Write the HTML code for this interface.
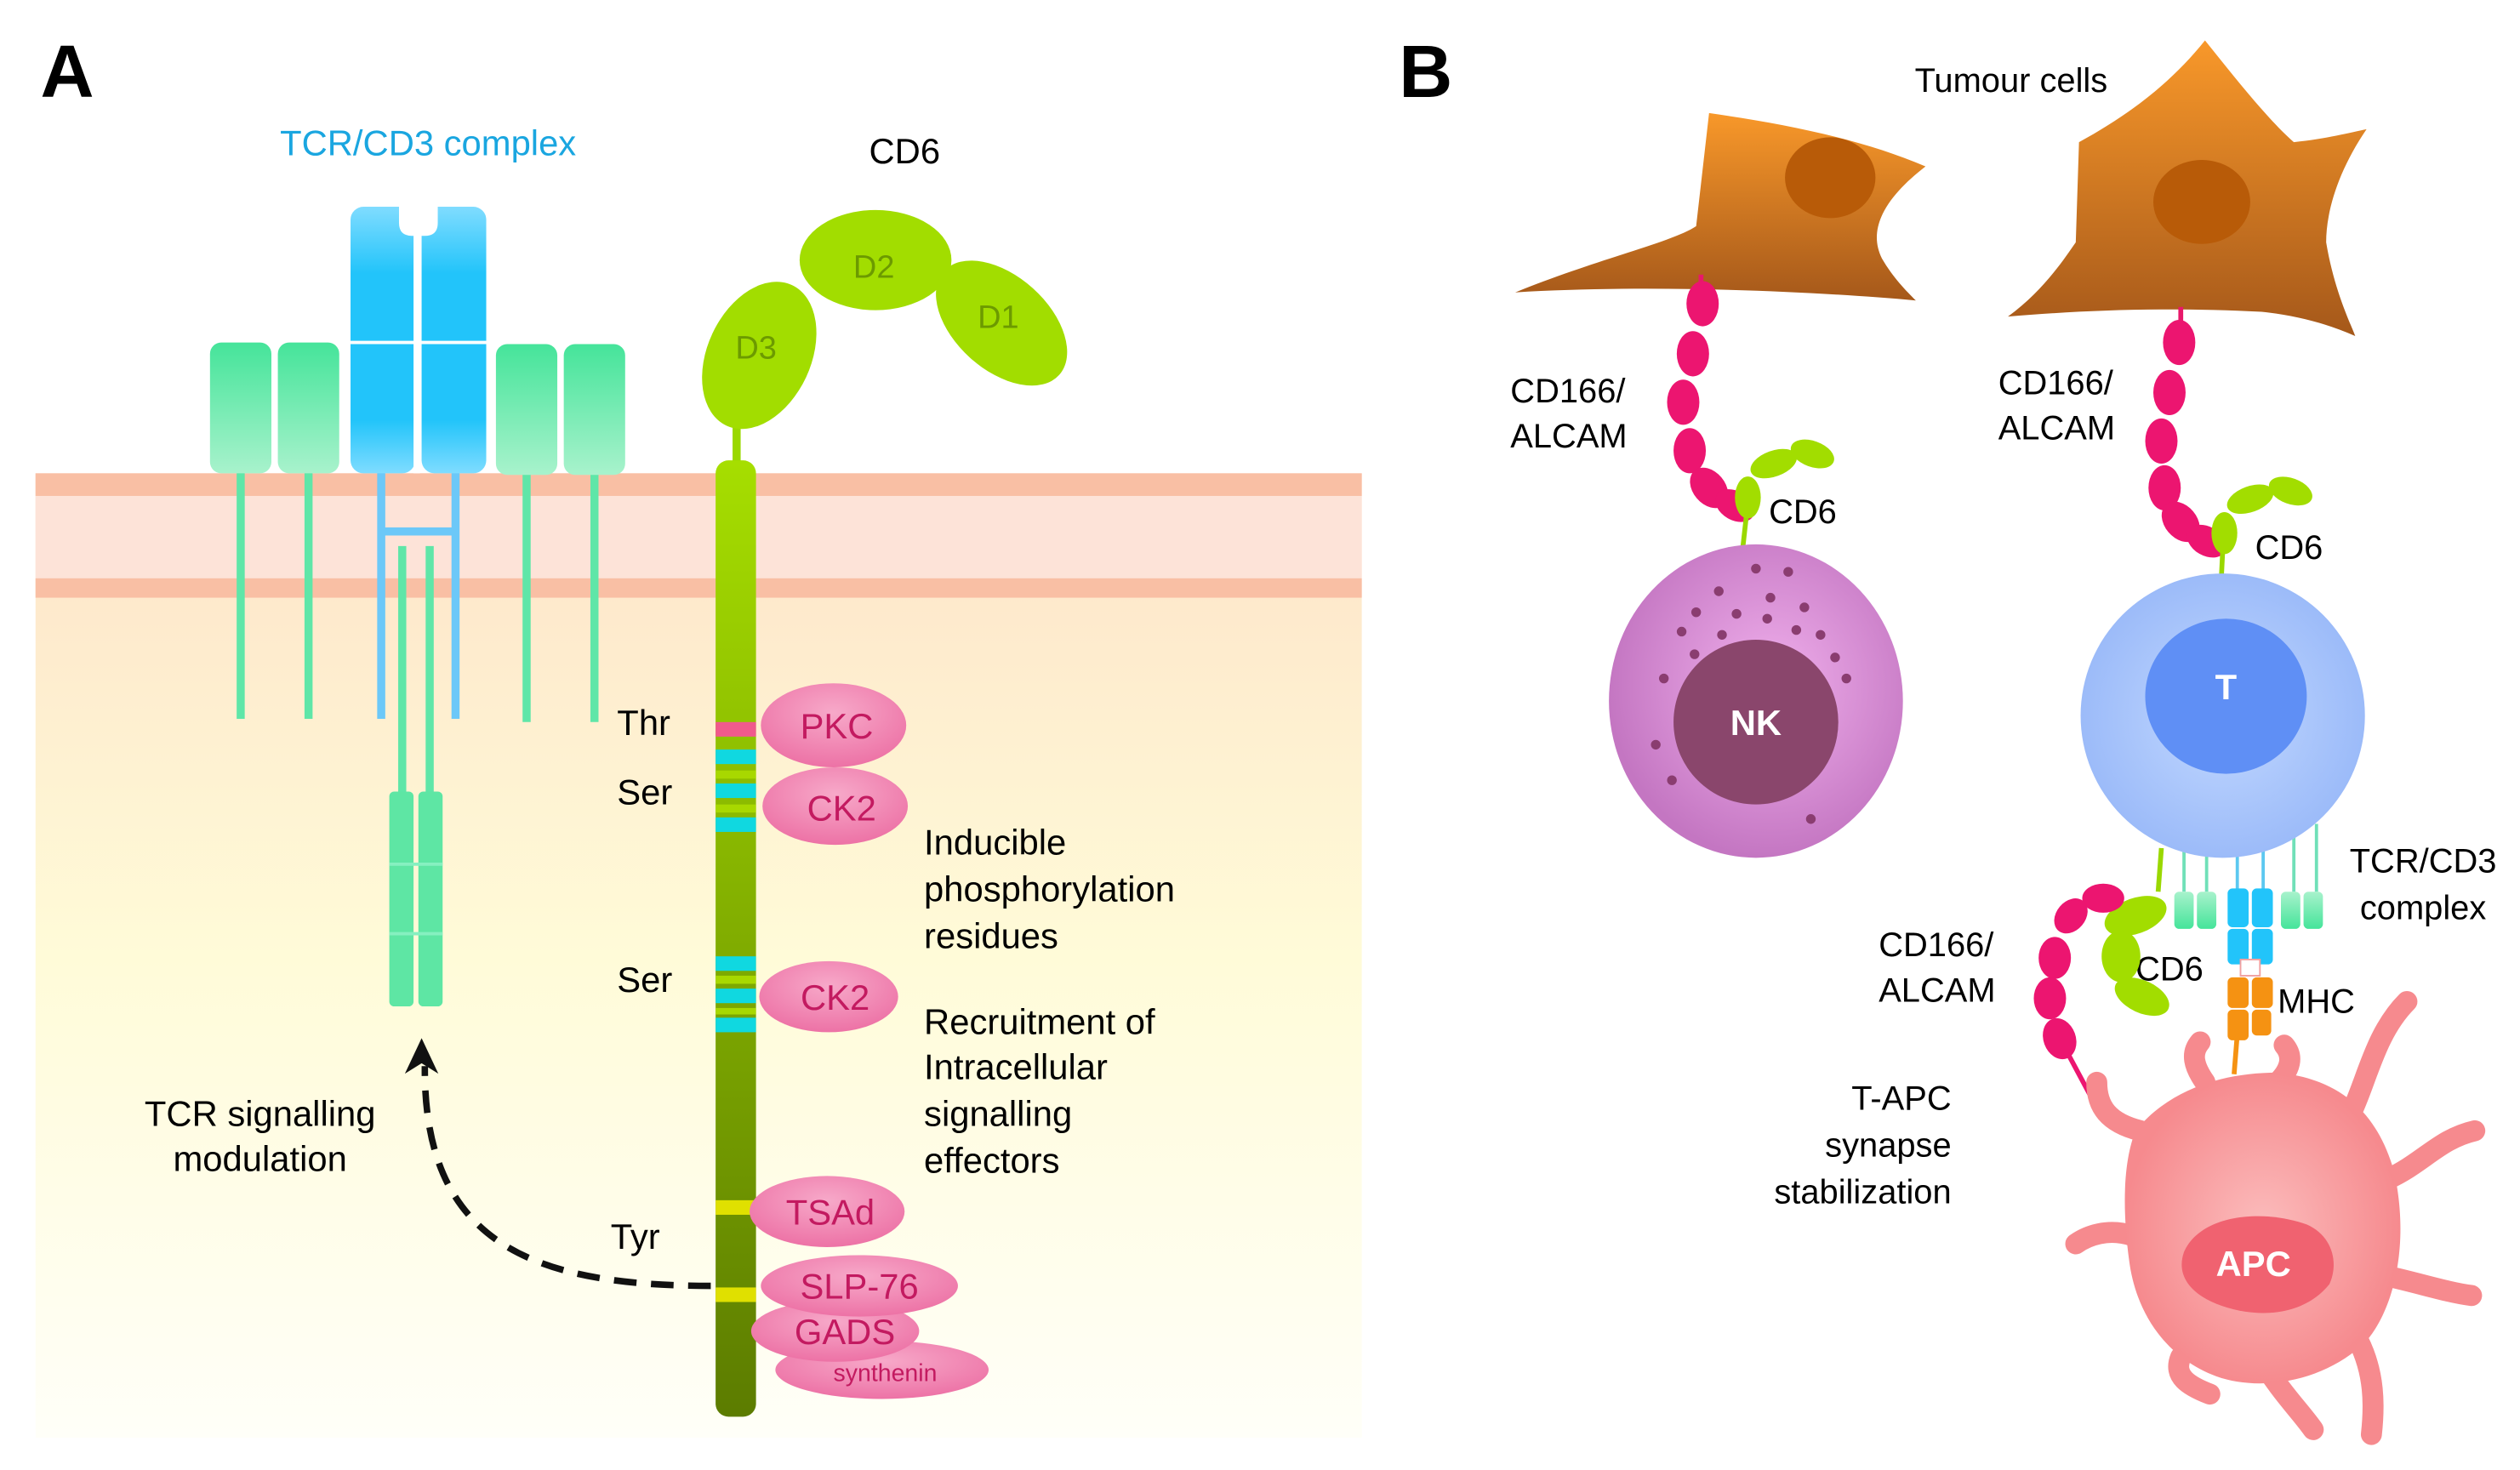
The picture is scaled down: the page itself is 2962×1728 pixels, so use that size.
<!DOCTYPE html>
<html><head><meta charset="utf-8"><style>
html,body{margin:0;padding:0;background:#fff;}
svg{display:block;}
text{font-family:"Liberation Sans",sans-serif;}
</style></head><body>
<svg width="2962" height="1728" viewBox="0 0 1560 910" preserveAspectRatio="none" xmlns="http://www.w3.org/2000/svg">
<defs>
<linearGradient id="cyto" x1="0" y1="0" x2="0" y2="1">
<stop offset="0" stop-color="#fde3c8"/><stop offset="0.5" stop-color="#fffbd8"/><stop offset="1" stop-color="#fffff8"/></linearGradient>
<linearGradient id="cd6" x1="0" y1="0" x2="0" y2="1">
<stop offset="0" stop-color="#a6de00"/><stop offset="1" stop-color="#5c7c00"/></linearGradient>
<linearGradient id="gbox" x1="0" y1="0" x2="0" y2="1">
<stop offset="0" stop-color="#45e49a"/><stop offset="1" stop-color="#a8f2cc"/></linearGradient>
<linearGradient id="bbox" x1="0" y1="0" x2="0" y2="1">
<stop offset="0" stop-color="#80dcff"/><stop offset="0.25" stop-color="#22c4fa"/><stop offset="0.8" stop-color="#22c4fa"/><stop offset="1" stop-color="#7fdcff"/></linearGradient>
<radialGradient id="pinkov" cx="0.5" cy="0.35" r="0.7">
<stop offset="0" stop-color="#f7a9c9"/><stop offset="1" stop-color="#ec6ea3"/></radialGradient>
<linearGradient id="tum" x1="0" y1="0" x2="0" y2="1">
<stop offset="0" stop-color="#f8982a"/><stop offset="1" stop-color="#a5581a"/></linearGradient>
<radialGradient id="nk" cx="0.55" cy="0.45" r="0.55">
<stop offset="0" stop-color="#f0b0ec"/><stop offset="1" stop-color="#c476c2"/></radialGradient>
<radialGradient id="tc" cx="0.5" cy="0.5" r="0.55">
<stop offset="0" stop-color="#c2d8ff"/><stop offset="1" stop-color="#98b8f8"/></radialGradient>
<radialGradient id="apc" cx="0.5" cy="0.5" r="0.5">
<stop offset="0" stop-color="#fbbcbc"/><stop offset="1" stop-color="#f68a8e"/></radialGradient>
</defs>

<rect x="22" y="293" width="821" height="597" fill="url(#cyto)"/>
<rect x="22" y="293" width="821" height="77" fill="#fde3d8"/>
<rect x="22" y="293" width="821" height="14" fill="#f9bfa4"/>
<rect x="22" y="358" width="821" height="12" fill="#f9bfa4"/>

<text x="25" y="60" font-size="46" font-weight="bold">A</text>
<text x="265" y="96" font-size="22" fill="#1aa6e0" text-anchor="middle">TCR/CD3 complex</text>
<text x="560" y="101" font-size="22" text-anchor="middle">CD6</text>

<g stroke="#5fe6a8" stroke-width="5">
<line x1="149" y1="290" x2="149" y2="445"/><line x1="191" y1="290" x2="191" y2="445"/>
<line x1="326" y1="290" x2="326" y2="447"/><line x1="368" y1="290" x2="368" y2="447"/>
<line x1="249" y1="338" x2="249" y2="492"/><line x1="266" y1="338" x2="266" y2="492"/>
</g>
<g stroke="#6cc8f8" stroke-width="5" fill="none">
<line x1="236" y1="290" x2="236" y2="445"/><line x1="282" y1="290" x2="282" y2="445"/>
<line x1="236" y1="329" x2="282" y2="329"/>
</g>
<rect x="130" y="212" width="38" height="81" rx="7" fill="url(#gbox)"/>
<rect x="172" y="212" width="38" height="81" rx="7" fill="url(#gbox)"/>
<rect x="307" y="213" width="38" height="81" rx="7" fill="url(#gbox)"/>
<rect x="349" y="213" width="38" height="81" rx="7" fill="url(#gbox)"/>
<rect x="217" y="128" width="40" height="165" rx="8" fill="url(#bbox)"/>
<rect x="261" y="128" width="40" height="165" rx="8" fill="url(#bbox)"/>
<path d="M247,126 L247,138 Q247,146 255,146 L263,146 Q271,146 271,138 L271,126 Z" fill="#fff"/>
<line x1="258" y1="140" x2="258" y2="293" stroke="#fff" stroke-width="4"/>
<line x1="217" y1="212" x2="301" y2="212" stroke="#fff" stroke-width="2"/>
<g fill="#5ee6a4">
<rect x="241" y="490" width="15" height="133" rx="3"/><rect x="259" y="490" width="15" height="133" rx="3"/>
</g>
<g stroke="#86f0c0" stroke-width="2"><line x1="241" y1="535" x2="274" y2="535"/><line x1="241" y1="578" x2="274" y2="578"/></g>

<line x1="456" y1="255" x2="456" y2="290" stroke="#9ad800" stroke-width="5"/>
<ellipse cx="470" cy="220" rx="32" ry="48" transform="rotate(25 470 220)" fill="#a2dd00"/>
<ellipse cx="542" cy="161" rx="47" ry="31" fill="#a2dd00"/>
<ellipse cx="620" cy="200" rx="48" ry="29" transform="rotate(42 620 200)" fill="#a2dd00"/>
<g font-size="20" fill="#6c9a00" text-anchor="middle">
<text x="468" y="222">D3</text><text x="541" y="172">D2</text><text x="618" y="203">D1</text></g>
<rect x="443" y="285" width="25" height="592" rx="8" fill="url(#cd6)"/>
<rect x="443" y="447" width="25" height="9" fill="#f05a8c"/>
<g fill="#10d8e0">
<rect x="443" y="464" width="25" height="9"/><rect x="443" y="485" width="25" height="9"/><rect x="443" y="506" width="25" height="9"/>
<rect x="443" y="592" width="25" height="9"/><rect x="443" y="612" width="25" height="9"/><rect x="443" y="630" width="25" height="9"/>
</g>
<g fill="#a8d800"><rect x="443" y="477" width="25" height="5"/><rect x="443" y="498" width="25" height="5"/><rect x="443" y="604" width="25" height="5"/><rect x="443" y="624" width="25" height="4"/></g>
<g fill="#e0e000"><rect x="443" y="743" width="25" height="9"/><rect x="443" y="797" width="25" height="9"/></g>

<g fill="url(#pinkov)">
<ellipse cx="516" cy="449" rx="45" ry="26"/>
<ellipse cx="517" cy="499" rx="45" ry="24"/>
<ellipse cx="513" cy="617" rx="43" ry="22"/>
<ellipse cx="512" cy="750" rx="48" ry="22"/>
<ellipse cx="546" cy="848" rx="66" ry="18"/>
<ellipse cx="517" cy="824" rx="52" ry="19"/>
<ellipse cx="532" cy="796" rx="61" ry="19"/>
</g>
<g fill="#c31a60" text-anchor="middle" font-size="22">
<text x="518" y="457">PKC</text><text x="521" y="508">CK2</text><text x="517" y="625">CK2</text>
<text x="514" y="758">TSAd</text><text x="532" y="804">SLP-76</text><text x="523" y="832">GADS</text>
<text x="548" y="855" font-size="15">synthenin</text></g>

<g font-size="22">
<text x="382" y="455">Thr</text><text x="382" y="498">Ser</text><text x="382" y="614">Ser</text><text x="378" y="773">Tyr</text>
<text x="572" y="529">Inducible</text><text x="572" y="558">phosphorylation</text><text x="572" y="587">residues</text>
<text x="572" y="640">Recruitment of</text><text x="572" y="668">Intracellular</text><text x="572" y="697">signalling</text><text x="572" y="726">effectors</text>
<text x="161" y="697" text-anchor="middle">TCR signalling</text><text x="161" y="725" text-anchor="middle">modulation</text>
</g>
<path d="M440,796 C330,796 262,770 263,660" fill="none" stroke="#111" stroke-width="4" stroke-dasharray="14,9"/>
<path d="M253,662 L261,645 L269,662 L261,657 Z" fill="#111" stroke="#111" stroke-width="2"/>

<text x="866" y="60" font-size="46" font-weight="bold">B</text>
<text x="1245" y="57" font-size="21" text-anchor="middle">Tumour cells</text>

<path d="M938,181 C990,160 1035,150 1050,140 L1058,70 C1100,76 1150,85 1192,103 C1170,120 1155,140 1165,160 C1172,172 1180,180 1186,186 C1120,180 1020,176 938,181 Z" fill="url(#tum)"/>
<ellipse cx="1133" cy="110" rx="28" ry="25" fill="#b85b08"/>
<path d="M1243,196 C1265,180 1278,160 1285,150 L1287,88 C1320,70 1345,50 1365,25 C1385,50 1405,75 1420,88 C1440,86 1455,82 1465,80 C1448,105 1440,130 1440,150 C1445,180 1455,200 1458,208 C1440,200 1420,195 1400,193 C1340,190 1290,192 1243,196 Z" fill="url(#tum)"/>
<ellipse cx="1363" cy="125" rx="30" ry="26" fill="#b85b08"/>

<line x1="1053" y1="170" x2="1053" y2="185" stroke="#e8186a" stroke-width="3"/>
<g fill="#ec1570">
<ellipse cx="1054" cy="188" rx="10" ry="14"/><ellipse cx="1048" cy="219" rx="10" ry="14"/><ellipse cx="1042" cy="249" rx="10" ry="14"/>
<ellipse cx="1046" cy="279" rx="10" ry="14"/><ellipse cx="1058" cy="302" rx="10" ry="14" transform="rotate(-40 1058 302)"/><ellipse cx="1074" cy="313" rx="9" ry="13" transform="rotate(-60 1074 313)"/>
</g>
<line x1="1081" y1="320" x2="1079" y2="338" stroke="#9ad800" stroke-width="3"/>
<g fill="#a2dd00">
<ellipse cx="1082" cy="308" rx="8" ry="13"/><ellipse cx="1098" cy="287" rx="15" ry="8" transform="rotate(-20 1098 287)"/><ellipse cx="1122" cy="281" rx="14" ry="8" transform="rotate(20 1122 281)"/></g>
<g font-size="21">
<text x="935" y="249">CD166/</text><text x="935" y="277">ALCAM</text><text x="1095" y="324">CD6</text></g>

<ellipse cx="1087" cy="434" rx="91" ry="97" fill="url(#nk)"/>
<circle cx="1087" cy="447" r="51" fill="#8a466c"/>
<text x="1087" y="455" font-size="22" font-weight="bold" fill="#fff" text-anchor="middle">NK</text>
<g fill="#8a3d70">
<circle cx="1064" cy="366" r="3"/><circle cx="1087" cy="352" r="3"/><circle cx="1107" cy="354" r="3"/><circle cx="1050" cy="379" r="3"/>
<circle cx="1075" cy="380" r="3"/><circle cx="1096" cy="370" r="3"/><circle cx="1117" cy="376" r="3"/><circle cx="1041" cy="391" r="3"/>
<circle cx="1066" cy="393" r="3"/><circle cx="1094" cy="383" r="3"/><circle cx="1127" cy="393" r="3"/><circle cx="1136" cy="407" r="3"/>
<circle cx="1049" cy="405" r="3"/><circle cx="1030" cy="420" r="3"/><circle cx="1143" cy="420" r="3"/><circle cx="1112" cy="390" r="3"/>
<circle cx="1025" cy="461" r="3"/><circle cx="1035" cy="483" r="3"/><circle cx="1121" cy="507" r="3"/></g>

<line x1="1350" y1="190" x2="1350" y2="205" stroke="#e8186a" stroke-width="3"/>
<g fill="#ec1570">
<ellipse cx="1349" cy="212" rx="10" ry="14"/><ellipse cx="1343" cy="243" rx="10" ry="14"/><ellipse cx="1338" cy="273" rx="10" ry="14"/>
<ellipse cx="1340" cy="302" rx="10" ry="14"/><ellipse cx="1350" cy="323" rx="10" ry="14" transform="rotate(-40 1350 323)"/><ellipse cx="1366" cy="335" rx="9" ry="13" transform="rotate(-60 1366 335)"/></g>
<line x1="1376" y1="340" x2="1375" y2="360" stroke="#9ad800" stroke-width="3"/>
<g fill="#a2dd00">
<ellipse cx="1377" cy="330" rx="8" ry="13"/><ellipse cx="1393" cy="309" rx="15" ry="8" transform="rotate(-20 1393 309)"/><ellipse cx="1418" cy="304" rx="14" ry="8" transform="rotate(20 1418 304)"/></g>
<g font-size="21">
<text x="1237" y="244">CD166/</text><text x="1237" y="272">ALCAM</text><text x="1396" y="346">CD6</text></g>

<g stroke="#70e0b8" stroke-width="2">
<line x1="1352" y1="520" x2="1352" y2="552"/><line x1="1366" y1="520" x2="1366" y2="552"/><line x1="1420" y1="515" x2="1420" y2="552"/><line x1="1434" y1="510" x2="1434" y2="552"/></g>
<g stroke="#5cc8f0" stroke-width="2"><line x1="1385" y1="520" x2="1385" y2="552"/><line x1="1401" y1="520" x2="1401" y2="552"/></g>
<line x1="1338" y1="525" x2="1336" y2="552" stroke="#9ad800" stroke-width="3"/>
<ellipse cx="1376" cy="443" rx="88" ry="88" fill="url(#tc)"/>
<ellipse cx="1378" cy="431" rx="50" ry="48" fill="#5f8ff5"/>
<text x="1378" y="433" font-size="22" font-weight="bold" fill="#fff" text-anchor="middle">T</text>
<g fill="url(#gbox)" transform="scale(1,-1) translate(0,-1127)">
<rect x="1346" y="552" width="12" height="23" rx="3"/><rect x="1360" y="552" width="12" height="23" rx="3"/>
<rect x="1412" y="552" width="12" height="23" rx="3"/><rect x="1426" y="552" width="12" height="23" rx="3"/></g>
<g fill="#22c4fa">
<rect x="1379" y="550" width="13" height="24" rx="3"/><rect x="1394" y="550" width="13" height="24" rx="3"/>
<rect x="1379" y="575" width="13" height="22" rx="3"/><rect x="1394" y="575" width="13" height="22" rx="3"/></g>
<rect x="1387" y="594" width="12" height="10" fill="#fff" stroke="#f0a0a0" stroke-width="1"/>
<g fill="#f59212">
<rect x="1379" y="605" width="13" height="19" rx="3"/><rect x="1394" y="605" width="13" height="19" rx="3"/>
<rect x="1379" y="625" width="13" height="19" rx="3"/><rect x="1394" y="625" width="12" height="16" rx="3"/></g>
<line x1="1385" y1="640" x2="1383" y2="665" stroke="#f59212" stroke-width="3"/>
<g font-size="21">
<text x="1500" y="540" text-anchor="middle">TCR/CD3</text><text x="1500" y="569" text-anchor="middle">complex</text>
<text x="1410" y="627">MHC</text><text x="1322" y="607">CD6</text>
<text x="1163" y="592">CD166/</text><text x="1163" y="620">ALCAM</text>
<text x="1208" y="687" text-anchor="end">T-APC</text><text x="1208" y="716" text-anchor="end">synapse</text><text x="1208" y="745" text-anchor="end">stabilization</text></g>

<g fill="#a2dd00">
<ellipse cx="1322" cy="567" rx="20" ry="11" transform="rotate(-20 1322 567)"/>
<ellipse cx="1313" cy="592" rx="12" ry="16"/>
<ellipse cx="1326" cy="617" rx="18" ry="10" transform="rotate(25 1326 617)"/></g>
<g fill="#ec1570">
<ellipse cx="1302" cy="556" rx="13" ry="9"/><ellipse cx="1282" cy="567" rx="9" ry="12" transform="rotate(40 1282 567)"/>
<ellipse cx="1272" cy="593" rx="10" ry="13"/><ellipse cx="1269" cy="618" rx="10" ry="13"/><ellipse cx="1275" cy="643" rx="10" ry="13" transform="rotate(-20 1275 643)"/></g>
<line x1="1280" y1="652" x2="1295" y2="680" stroke="#ec1570" stroke-width="3"/>

<g stroke="#f68a8e" stroke-width="13" stroke-linecap="round" fill="none">
<path d="M1325,700 C1305,695 1298,685 1298,670"/>
<path d="M1365,670 C1358,660 1356,652 1362,645"/>
<path d="M1410,670 C1418,662 1420,654 1414,647"/>
<path d="M1455,690 C1465,670 1470,640 1490,620"/>
<path d="M1478,730 C1500,720 1510,705 1532,700"/>
<path d="M1478,790 C1500,795 1515,800 1530,802"/>
<path d="M1460,830 C1470,850 1470,870 1468,888"/>
<path d="M1405,850 C1415,865 1425,875 1432,885"/>
<path d="M1350,840 C1345,852 1355,858 1368,863"/>
<path d="M1320,765 C1305,760 1292,765 1285,770"/>
</g>
<path d="M1322,700 C1345,672 1380,664 1410,664 C1450,668 1472,690 1482,725 C1492,770 1482,810 1465,830 C1440,855 1400,862 1372,852 C1340,840 1322,812 1318,780 C1314,750 1314,720 1322,700 Z" fill="url(#apc)"/>
<path d="M1352,775 C1362,752 1400,748 1428,758 C1444,765 1448,782 1442,795 C1430,810 1410,815 1390,812 C1365,808 1345,795 1352,775 Z" fill="#f06270"/>
<text x="1395" y="790" font-size="22" font-weight="bold" fill="#fff" text-anchor="middle">APC</text>
</svg>
</body></html>
